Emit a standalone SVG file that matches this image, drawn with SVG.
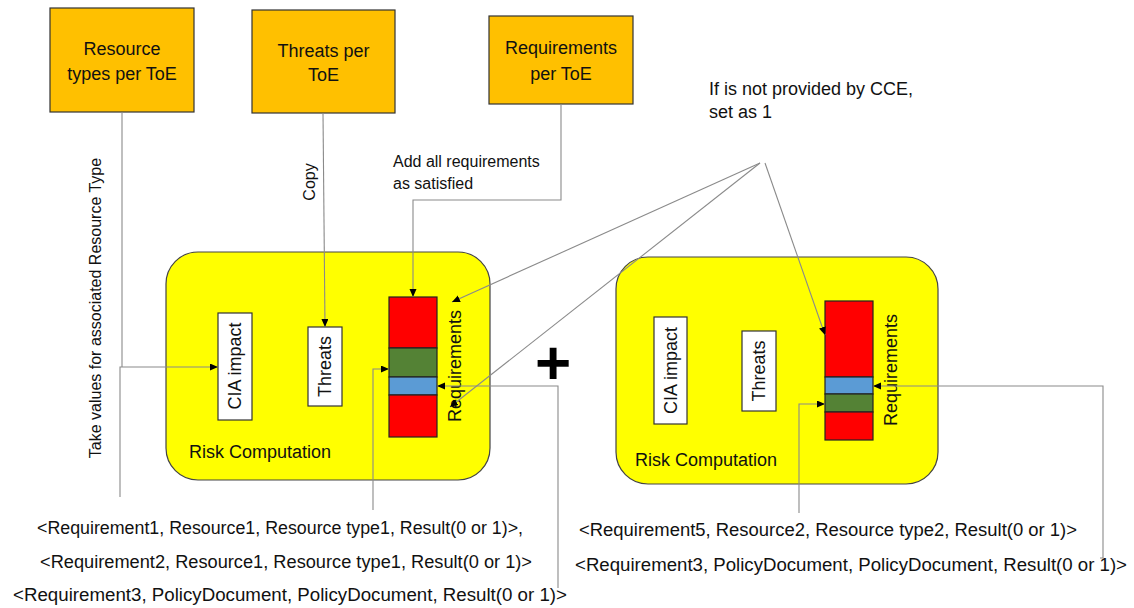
<svg xmlns="http://www.w3.org/2000/svg" width="1134" height="608" viewBox="0 0 1134 608">
  <style>
    text { font-family: "Liberation Sans", Arial, sans-serif; fill: #111; }
    .big { font-size: 18px; }
    .small { font-size: 16px; }
    .src { fill: #FFC000; stroke: #333; stroke-width: 1.2; }
    .panel { fill: #FFFF00; stroke: #444; stroke-width: 1.2; }
    .item { fill: #fff; stroke: #333; stroke-width: 1.2; }
    .cell { stroke: #222; stroke-width: 1.2; }
    .red { fill: #FF0000; }
    .green { fill: #548235; }
    .blue { fill: #5B9BD5; }
    .wire { fill: none; stroke: #8a8a8a; stroke-width: 1.1; }
    .plus { font-size: 62px; font-weight: bold; fill: #000; }
  </style>
  <defs>
    <marker id="arrow" markerUnits="userSpaceOnUse" markerWidth="9" markerHeight="8" refX="8" refY="3.5" orient="auto">
      <path d="M0,0 L8,3.5 L0,7 z" fill="#000"/>
    </marker>
  </defs>

  <!-- source boxes -->
  <g id="resource-types">
    <rect class="src" x="50" y="8" width="144" height="104"/>
    <text class="big" x="122" y="55" text-anchor="middle">Resource</text>
    <text class="big" x="122" y="80" text-anchor="middle">types per ToE</text>
  </g>
  <g id="threats-per-toe">
    <rect class="src" x="252" y="10" width="143" height="103"/>
    <text class="big" x="323.5" y="57" text-anchor="middle">Threats per</text>
    <text class="big" x="323.5" y="81" text-anchor="middle">ToE</text>
  </g>
  <g id="requirements-per-toe">
    <rect class="src" x="489" y="16" width="144" height="88"/>
    <text class="big" x="561" y="54" text-anchor="middle">Requirements</text>
    <text class="big" x="561" y="80" text-anchor="middle">per ToE</text>
  </g>

  <!-- left risk computation -->
  <g id="risk-computation-1">
    <rect class="panel" x="166" y="252" width="324" height="228" rx="32" ry="32"/>
    <rect class="item" x="218" y="313" width="34" height="107"/>
    <text class="big" transform="translate(235,366) rotate(-90)" text-anchor="middle" dy="0.35em">CIA impact</text>
    <rect class="item" x="308" y="327" width="34" height="79"/>
    <text class="big" transform="translate(325,366.5) rotate(-90)" text-anchor="middle" dy="0.35em">Threats</text>
    <rect class="cell red" x="389" y="297" width="48" height="51"/>
    <rect class="cell green" x="389" y="348" width="48" height="29"/>
    <rect class="cell blue" x="389" y="377" width="48" height="18"/>
    <rect class="cell red" x="389" y="395" width="48" height="42"/>
    <text class="big" transform="translate(455,366) rotate(-90)" text-anchor="middle" dy="0.35em">Requirements</text>
    <text class="big" x="189" y="458">Risk Computation</text>
  </g>

  <!-- right risk computation -->
  <g id="risk-computation-2">
    <rect class="panel" x="616" y="257" width="322" height="227" rx="32" ry="32"/>
    <rect class="item" x="654" y="317" width="33" height="107"/>
    <text class="big" transform="translate(670.5,370.5) rotate(-90)" text-anchor="middle" dy="0.35em">CIA impact</text>
    <rect class="item" x="742" y="331" width="34" height="80"/>
    <text class="big" transform="translate(759,371) rotate(-90)" text-anchor="middle" dy="0.35em">Threats</text>
    <rect class="cell red" x="825" y="301" width="48" height="76"/>
    <rect class="cell blue" x="825" y="377" width="48" height="17"/>
    <rect class="cell green" x="825" y="394" width="48" height="18"/>
    <rect class="cell red" x="825" y="412" width="48" height="28"/>
    <text class="big" transform="translate(891,370) rotate(-90)" text-anchor="middle" dy="0.35em">Requirements</text>
    <text class="big" x="635" y="466">Risk Computation</text>
  </g>

  <text id="plus" class="plus" x="553" y="384" text-anchor="middle">+</text>

  <!-- connectors -->
  <g id="connectors">
    <path class="wire" d="M122,112 V367"/>
    <path class="wire" d="M120,497 V367 H218" marker-end="url(#arrow)"/>
    <path class="wire" d="M323,113 L325,327" marker-end="url(#arrow)"/>
    <path class="wire" d="M561,104 V200 H413 V297" marker-end="url(#arrow)"/>
    <path class="wire" d="M373,510 V369 H389" marker-end="url(#arrow)"/>
    <path class="wire" d="M558,588 V386 H437" marker-end="url(#arrow)"/>
    <path class="wire" d="M760,163 L452,302" marker-end="url(#arrow)"/>
    <path class="wire" d="M760,163 L450,407" marker-end="url(#arrow)"/>
    <path class="wire" d="M765,163 L825,335" marker-end="url(#arrow)"/>
    <path class="wire" d="M799,513 V404 H825" marker-end="url(#arrow)"/>
    <path class="wire" d="M1100,558 H1103 V386 H873" marker-end="url(#arrow)"/>
  </g>

  <!-- labels -->
  <g id="labels">
    <text class="small" transform="translate(95,308) rotate(-90)" text-anchor="middle" dy="0.35em">Take values for associated Resource Type</text>
    <text class="small" transform="translate(309,182) rotate(-90)" text-anchor="middle" dy="0.35em">Copy</text>
    <text class="small" x="393" y="167">Add all requirements</text>
    <text class="small" x="393" y="189">as satisfied</text>
    <text class="big" x="709" y="95">If is not provided by CCE,</text>
    <text class="big" x="709" y="118">set as 1</text>
    <text class="big" x="37" y="534" textLength="486" lengthAdjust="spacingAndGlyphs">&lt;Requirement1, Resource1, Resource type1, Result(0 or 1)&gt;,</text>
    <text class="big" x="40" y="568" textLength="492" lengthAdjust="spacingAndGlyphs">&lt;Requirement2, Resource1, Resource type1, Result(0 or 1)&gt;</text>
    <text class="big" x="13" y="601" textLength="554" lengthAdjust="spacingAndGlyphs">&lt;Requirement3, PolicyDocument, PolicyDocument, Result(0 or 1)&gt;</text>
    <text class="big" x="579" y="536" textLength="498" lengthAdjust="spacingAndGlyphs">&lt;Requirement5, Resource2, Resource type2, Result(0 or 1)&gt;</text>
    <text class="big" x="575" y="571" textLength="552" lengthAdjust="spacingAndGlyphs">&lt;Requirement3, PolicyDocument, PolicyDocument, Result(0 or 1)&gt;</text>
  </g>
</svg>
